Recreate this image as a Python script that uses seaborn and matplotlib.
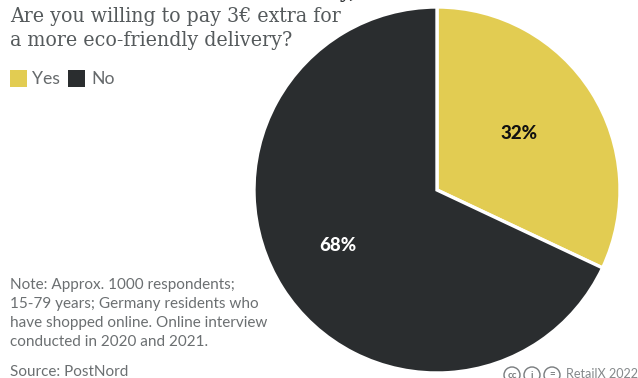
import matplotlib
matplotlib.use("Agg")
import matplotlib.pyplot as plt
from matplotlib.patches import Rectangle, Circle
import seaborn as sns

answers = ["Yes", "No"]
shares = [32, 68]
slice_colors = ["#E2CC52", "#2A2D2F"]
label_colors = ["#111111", "#FFFFFF"]
question = ["Are you willing to pay 3€ extra for", "a more eco-friendly delivery?"]
note = ["Note: Approx. 1000 respondents;",
        "15-79 years; Germany residents who",
        "have shopped online. Online interview",
        "conducted in 2020 and 2021."]
source = "Source: PostNord"
credit = "RetailX 2022"
heading_tail = "y,"

sns.set_theme(style="white")
W, H = 638, 378
fig = plt.figure(figsize=(W / 100, H / 100), dpi=100, facecolor="white")

# Full-figure overlay in pixel coordinates for the text and legend
bg = fig.add_axes([0, 0, 1, 1])
bg.set_xlim(0, W)
bg.set_ylim(H, 0)
bg.axis("off")

# Pie axes: centre (437, 190), radius 183 px
cx, cy, r = 437, 190, 183
ax = fig.add_axes([(cx - r) / W, 1 - (cy + r) / H, 2 * r / W, 2 * r / H])
wedges, _ = ax.pie(shares, colors=slice_colors, startangle=90, counterclock=False,
                   radius=1, wedgeprops=dict(edgecolor="white", linewidth=2.4))
ax.set_xlim(-1, 1)
ax.set_ylim(-1, 1)
ax.set_aspect("equal")
for w in wedges:
    w.set_clip_on(False)
ax.set_zorder(1)
bg.set_zorder(2)
bg.patch.set_alpha(0)

sans = "Lato"
for (x, y), text, col in zip([(519.5, 133.5), (338, 245.5)], ["32%", "68%"], label_colors):
    bg.text(x, y, text, color=col, fontsize=13.5, fontweight="black", family=sans,
            ha="center", va="center")

# Bottom of the heading line that runs off the top edge
bg.text(340, -3, heading_tail, color="#2A2D2F", fontsize=17, fontweight="bold",
        family="Liberation Serif", ha="left", va="baseline", clip_on=True)

for y, line in zip([17, 40], question):
    bg.text(10, y, line, color="#555a5c", fontsize=15.2, family="DejaVu Serif",
            stretch="condensed", ha="left", va="center")

# Legend swatches
for x, col, lab, tx in zip([10, 68], slice_colors, answers, [32, 91]):
    bg.add_patch(Rectangle((x, 70), 17, 17, color=col, lw=0))
    bg.text(tx, 78.5, lab, color="#666a6c", fontsize=12.7, family=sans, ha="left", va="center")

for y, line in zip([285.5, 304, 322.5, 341.5], note):
    bg.text(10, y, line, color="#6b6f71", fontsize=10.95, family=sans, ha="left", va="center")
bg.text(10, 372.5, source, color="#6b6f71", fontsize=10.95, family=sans, ha="left", va="center")

# Licence badges and credit line
for x, s in zip([512, 532, 552], ["cc", "i", "="]):
    bg.add_patch(Circle((x, 375), 8, fill=False, ec="#777b7d", lw=1))
    bg.text(x, 375, s, color="#777b7d", fontsize=7, fontweight="bold", family=sans,
            ha="center", va="center")
bg.text(566, 374, credit, color="#85898b", fontsize=9.1, family=sans, ha="left", va="center")

fig.savefig("out.png", dpi=100)
